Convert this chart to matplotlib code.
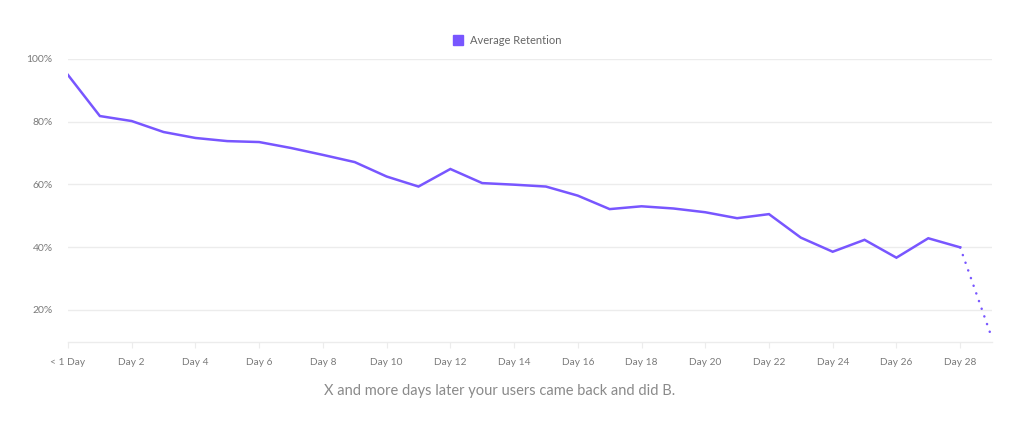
import matplotlib.pyplot as plt
from matplotlib.lines import Line2D

days = list(range(30))
retention = [94.9, 81.8, 80.2, 76.7, 74.8, 73.8, 73.5, 71.6, 69.4, 67.1,
             62.5, 59.3, 64.9, 60.4, 59.9, 59.3, 56.4, 52.1, 53.0, 52.3,
             51.1, 49.2, 50.5, 43.0, 38.5, 42.3, 36.6, 42.8, 39.9, 10.9]
tick_days = list(range(0, 29, 2))
tick_labels = ['< 1 Day'] + ['Day %d' % d for d in tick_days[1:]]
y_ticks = [20, 40, 60, 80, 100]
y_labels = ['20%', '40%', '60%', '80%', '100%']

purple = '#7856ff'
grey_txt = '#7a7a7a'
grid_c = '#ececec'

plt.rcParams['font.family'] = ['Lato', 'DejaVu Sans']

fig = plt.figure(figsize=(10.24, 4.33), dpi=100)
ax = fig.add_axes([68/1024, 1-342.3/433, (992-68)/1024, (342.3-59)/433])

# solid part up to day 28, dotted to the incomplete last day
ax.plot(days[:29], retention[:29], color=purple, lw=1.8, solid_joinstyle='miter')
ax.plot(days[28:], retention[28:], color=purple, lw=1.8, linestyle=(0, (0.05, 3.2)),
        dash_capstyle='round')

ax.set_xlim(0, 29)
ax.set_ylim(9.6, 100)
ax.set_xticks(tick_days)
ax.set_xticklabels(tick_labels)
ax.set_yticks(y_ticks)
ax.set_yticklabels(y_labels)
ax.tick_params(axis='x', length=4, color=grid_c, labelsize=7.3, labelcolor=grey_txt, pad=7)
ax.tick_params(axis='y', length=0, labelsize=7.5, labelcolor=grey_txt, pad=11)
ax.grid(axis='y', color=grid_c, lw=1)
ax.set_axisbelow(True)
for s in ['top', 'right', 'left']:
    ax.spines[s].set_visible(False)
ax.spines['bottom'].set_color(grid_c)
ax.spines['bottom'].set_linewidth(1)

handle = Line2D([], [], color=purple, marker='s', markersize=7, linestyle='none')
fig.legend([handle], ['Average Retention'], loc='center', bbox_to_anchor=(507/1024, 1-40/433),
           frameon=False, fontsize=8, labelcolor='#666666', handletextpad=0.5, handlelength=1)

fig.text(500/1024, 1-391/433, 'X and more days later your users came back and did B.',
         ha='center', va='center', fontsize=10.5, color='#8a8a8a')

fig.savefig('out.png', dpi=100, facecolor='white')
